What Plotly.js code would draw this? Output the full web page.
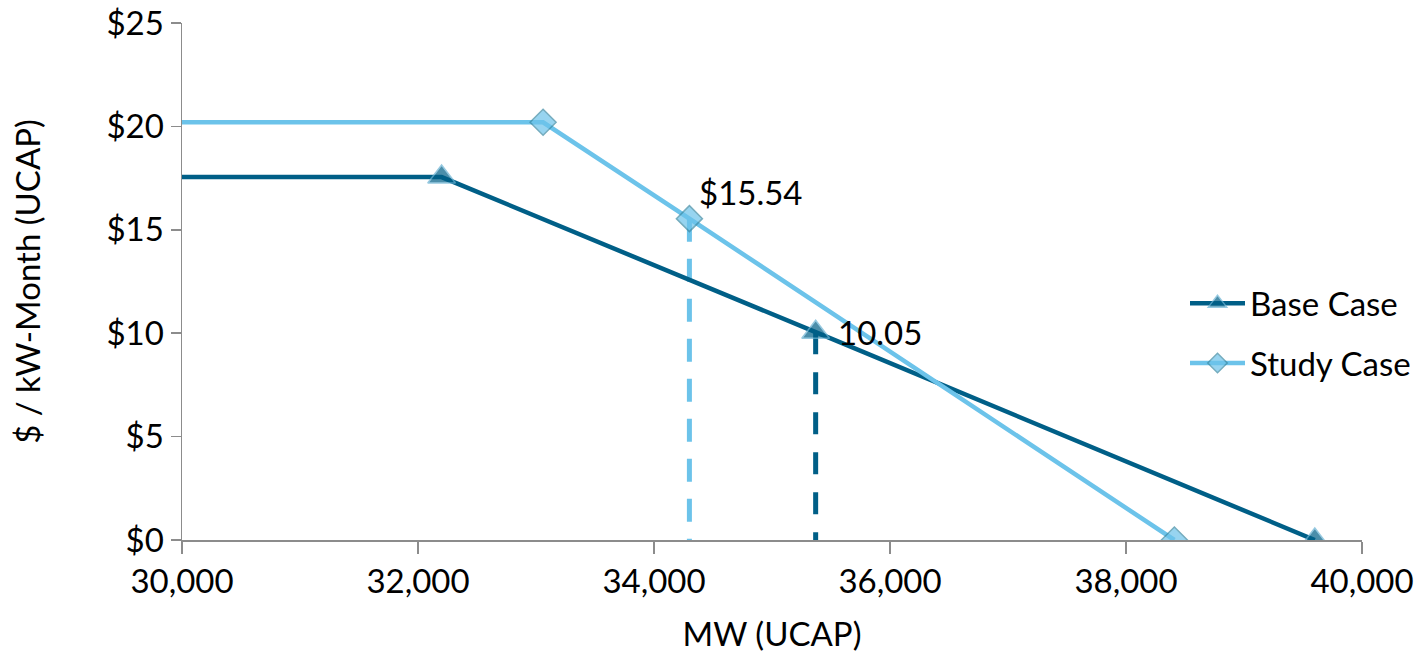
<!DOCTYPE html>
<html>
<head>
<meta charset="utf-8">
<script src="https://cdn.plot.ly/plotly-3.0.1.min.js"></script>
<style>
  html, body { margin: 0; padding: 0; background: #fff; }
  #chart { width: 1420px; height: 660px; }
</style>
</head>
<body>
<div id="chart"></div>
<script>
// Capacity demand curves, $/kW-Month vs MW (UCAP)
const baseX = [30000, 32200, 35370, 39600];
const baseY = [17.55, 17.55, 10.05, 0];
const studyX = [30000, 33060, 34300, 38410];
const studyY = [20.2, 20.2, 15.54, 0];

// Clearing points marked with drop lines
const studyClearX = 34300, studyClearY = 15.54;
const baseClearX = 35370, baseClearY = 10.05;

const DARK = '#005F87';
const LIGHT = '#6CC3EA';
const FONT = 'Lato, "Open Sans", sans-serif';
const FS = 33;

const traces = [
  {
    x: [studyClearX, studyClearX], y: [studyClearY, 0],
    mode: 'lines', showlegend: false, hoverinfo: 'skip',
    line: { color: LIGHT, width: 5, dash: '23px,17px' }
  },
  {
    x: [baseClearX, baseClearX], y: [baseClearY, 0],
    mode: 'lines', showlegend: false, hoverinfo: 'skip',
    line: { color: DARK, width: 5, dash: '22px,18px' }
  },
  {
    name: 'Base Case', legendgroup: 'a',
    x: baseX, y: baseY, mode: 'lines+markers',
    line: { color: DARK, width: 4.5 },
    marker: { symbol: 'triangle-up', size: baseX.map((v, i) => i === 0 ? 0 : 24),
              color: DARK, line: { color: '#6BB3D4', width: 1.5 } }
  },
  {
    name: 'Study Case', legendgroup: 'b',
    x: studyX, y: studyY, mode: 'lines+markers',
    line: { color: LIGHT, width: 4.5 },
    marker: { symbol: 'diamond', size: studyX.map((v, i) => i === 0 ? 0 : 20),
              color: LIGHT, line: { color: '#3C8AA3', width: 1.5 } }
  }
];

const layout = {
  width: 1420, height: 660,
  margin: { l: 182, r: 58, t: 23, b: 120, autoexpand: false },
  paper_bgcolor: '#fff', plot_bgcolor: '#fff',
  font: { family: FONT, size: FS, color: '#000' },
  showlegend: true,
  legend: {
    x: 0.85, y: 0.40, xanchor: 'left', yanchor: 'middle',
    bgcolor: 'rgba(0,0,0,0)', font: { family: FONT, size: FS, color: '#000' },
    traceorder: 'grouped', tracegroupgap: 14, itemwidth: 55
  },
  xaxis: {
    range: [30000, 40000], dtick: 2000, tick0: 30000,
    tickformat: ',d', showgrid: false, zeroline: false,
    showline: true, linecolor: '#8C8C8C', linewidth: 1.5,
    ticks: 'outside', ticklen: 12, tickcolor: '#8C8C8C', tickwidth: 1.5,
    tickfont: { family: FONT, size: FS },
    title: { text: 'MW (UCAP)', font: { family: FONT, size: FS }, standoff: 24 }
  },
  yaxis: {
    range: [0, 25], dtick: 5, tickprefix: '$',
    showgrid: false, zeroline: false,
    showline: true, linecolor: '#8C8C8C', linewidth: 1.5,
    ticks: 'outside', ticklen: 10, tickcolor: '#8C8C8C', tickwidth: 1.5,
    tickfont: { family: FONT, size: FS },
    title: { text: '$ / kW-Month (UCAP)', font: { family: FONT, size: FS }, standoff: 56 }
  },
  annotations: [
    { x: studyClearX, y: studyClearY, text: '$' + studyClearY.toFixed(2),
      showarrow: false, xanchor: 'left', yanchor: 'bottom', xshift: 8, yshift: 5,
      font: { family: FONT, size: FS, color: '#000' } },
    { x: baseClearX, y: baseClearY, text: baseClearY.toFixed(2),
      showarrow: false, xanchor: 'left', yanchor: 'middle', xshift: 20, yshift: 0,
      font: { family: FONT, size: FS, color: '#000' } }
  ]
};

Plotly.newPlot('chart', traces, layout, { displayModeBar: false, staticPlot: true });
</script>
</body>
</html>
